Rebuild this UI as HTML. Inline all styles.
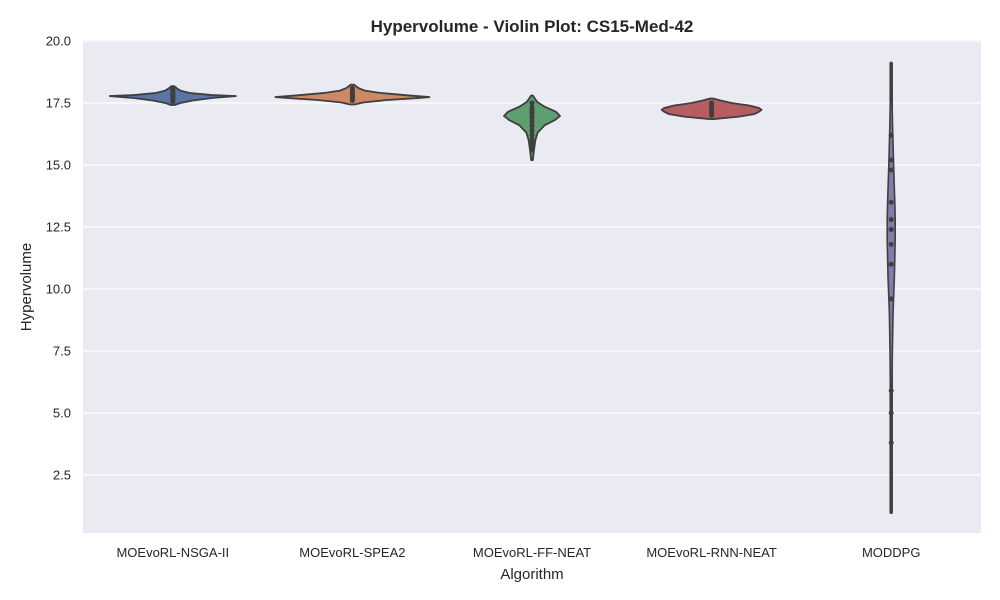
<!DOCTYPE html>
<html><head><meta charset="utf-8"><style>
body{margin:0;background:#fff;font-family:"Liberation Sans",sans-serif}
svg{display:block}
</style></head><body>
<svg id="c" width="1000" height="600"></svg>
<script>
const categories=["MOEvoRL-NSGA-II","MOEvoRL-SPEA2","MOEvoRL-FF-NEAT","MOEvoRL-RNN-NEAT","MODDPG"];
const yTicks=[2.5,5.0,7.5,10.0,12.5,15.0,17.5,20.0];
// density profiles: hypervolume levels and relative density (0..1)
const profVals=[
 [17.42,17.5,17.6,17.7,17.78,17.82,17.9,18.0,18.1,18.18],
 [17.44,17.52,17.62,17.7,17.74,17.8,17.9,18.0,18.1,18.24],
 [15.2,15.6,16.0,16.3,16.6,16.8,16.98,17.15,17.35,17.55,17.8],
 [16.85,16.95,17.05,17.15,17.22,17.3,17.4,17.5,17.6,17.68],
 [1.0,3.0,5.0,7.0,9.0,10.5,12.0,12.8,13.5,15.0,16.5,18.0,19.1]
];
const profDens=[
 [0.03,0.12,0.32,0.62,1.0,0.62,0.28,0.12,0.06,0.02],
 [0.03,0.14,0.45,0.85,1.0,0.75,0.38,0.16,0.08,0.02],
 [0.03,0.07,0.12,0.2,0.45,0.8,1.0,0.85,0.45,0.18,0.03],
 [0.04,0.55,0.85,0.95,1.0,0.95,0.75,0.4,0.18,0.03],
 [0.05,0.1,0.15,0.25,0.45,0.8,1.0,1.0,0.9,0.6,0.35,0.15,0.05]
];
const maxHalfWidth=[63,77,28,50,4];
const points=[
 [17.55,17.6,17.65,17.7,17.75,17.78,17.8,17.82,17.85,17.9,17.95,18.0,18.05],
 [17.6,17.65,17.7,17.74,17.78,17.82,17.9,18.0,18.1],
 [15.6,15.8,16.0,16.2,16.4,16.6,16.75,16.9,17.0,17.1,17.2,17.3,17.5],
 [17.0,17.1,17.15,17.2,17.25,17.3,17.4,17.5],
 [3.8,5.0,5.9,9.6,11.0,11.8,12.4,12.8,13.5,14.8,15.2,16.2]
];
const colors=["#5875a4","#cc8963","#5f9e6e","#b55d60","#857aab"];
const L=83,R=981,T=40,B=533;
const y=v=>41+(20-v)*24.8;
const xc=i=>L+(R-L)/categories.length*(i+0.5);
const NS="http://www.w3.org/2000/svg";
const svg=document.getElementById('c');
function mk(tag,a,parent){const e=document.createElementNS(NS,tag);for(const k in a)e.setAttribute(k,a[k]);(parent||svg).appendChild(e);return e;}
const bg=mk('rect',{x:L,y:T,width:R-L,height:B-T,fill:'#eaeaf2'});


yTicks.forEach(t=>{
 const g=mk('line',{x1:L,x2:R,y1:y(t),y2:y(t),stroke:'#fff','stroke-width':1.2});
 
 
 const tx=mk('text',{x:L-12,y:y(t)+4.5,'text-anchor':'end','font-size':13,fill:'#262626'});
 tx.textContent=t.toFixed(1);
 
 
});
categories.forEach((c,i)=>{
 const cx=xc(i),vals=profVals[i],d=profDens[i],w=maxHalfWidth[i];
 let right=[],left=[];
 for(let k=0;k<vals.length;k++){right.push([cx+d[k]*w,y(vals[k])]);left.push([cx-d[k]*w,y(vals[k])]);}
 const top=[cx,y(vals[vals.length-1])],bot=[cx,y(vals[0])];
 const pts=[bot,...right,top,...left.reverse()];
 if(i===4){
  const bl=mk('line',{x1:cx,x2:cx,y1:bot[1],y2:top[1],stroke:'#3f3f3f','stroke-width':3.5,'stroke-linecap':'round'});
  
  
 }
 const p=mk('polygon',{points:pts.map(q=>q.join(',')).join(' '),fill:colors[i],stroke:'#3f3f3f','stroke-width':i===4?1.6:1.8,'stroke-linejoin':'round'});
 
 
 points[i].forEach(v=>{
  const ci=mk('circle',{cx:cx,cy:y(v),r:2.5,fill:'#3f3f3f'});
  
  
 });
 if(i<4){
  const ln=mk('line',{x1:cx,x2:cx,y1:y(points[i][0]),y2:y(points[i][points[i].length-1]),stroke:'#3f3f3f','stroke-width':4});
  
  
 }
 const tx=mk('text',{x:cx,y:557,'text-anchor':'middle','font-size':13,fill:'#262626'});
 tx.textContent=c;
 
 
});
const t=mk('text',{x:532,y:32,'text-anchor':'middle','font-size':17,'font-weight':'bold',fill:'#262626'});
t.textContent='Hypervolume - Violin Plot: CS15-Med-42';


const xl=mk('text',{x:532,y:579,'text-anchor':'middle','font-size':15,fill:'#262626'});
xl.textContent='Algorithm';


const yl=mk('text',{x:31,y:287,'text-anchor':'middle','font-size':15,fill:'#262626',transform:'rotate(-90 31 287)'});
yl.textContent='Hypervolume';


</script>
</body></html>
